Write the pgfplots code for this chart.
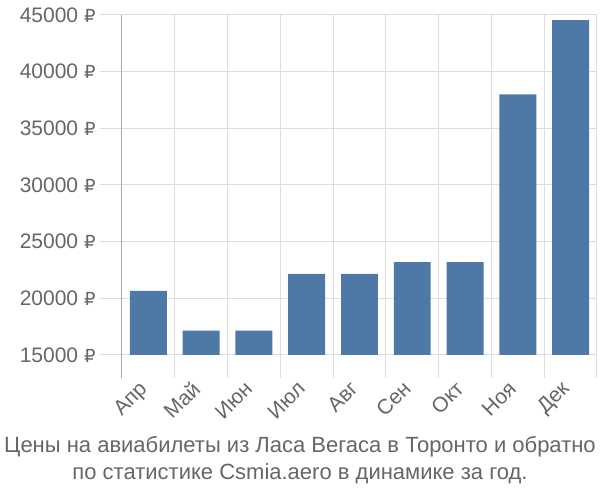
\documentclass[border=0pt]{standalone}
\usepackage{pgfplots}
\pgfplotsset{compat=1.18}
\usepackage{fontspec}
\setmainfont{Liberation Sans}
\newfontfamily\rubfont{DejaVu Sans}
\definecolor{barc}{RGB}{78,121,167}
\definecolor{txt}{RGB}{102,102,102}
\definecolor{gridc}{RGB}{221,221,221}
\definecolor{axc}{RGB}{170,170,170}
\begin{document}
\begin{tikzpicture}
\useasboundingbox (-122pt,-145pt) rectangle (478pt,355pt);
\begin{axis}[
  at={(0pt,0pt)}, anchor=south west,
  scale only axis, width=475pt, height=340pt,
  xmin=-0.5, xmax=8.5, ymin=15000, ymax=45000,
  xtick={0,...,8},
  xticklabels={Апр,Май,Июн,Июл,Авг,Сен,Окт,Ноя,Дек},
  minor xtick={-0.5,0.5,...,8.5},
  ytick={15000,20000,...,45000},
  scaled y ticks=false,
  yticklabel={\pgfmathprintnumber[1000 sep={},assume math mode=true,fixed,precision=0]{\tick}~{\rubfont\fontsize{18}{24}\selectfont ₽}},
  /pgf/number format/assume math mode=true,
  tick label style={font=\fontsize{21}{24}\selectfont, text=txt},
  xticklabel style={rotate=45, anchor=north east, xshift=-6pt, yshift=9pt},
  yticklabel style={xshift=-1pt},
  major x tick style={draw=none},
  minor x tick style={draw=gridc, line width=1pt},
  minor tick length=23pt,
  major y tick style={draw=gridc, line width=1pt},
  major tick length=22pt,
  xtick pos=bottom, ytick pos=left,
  tick align=outside,
  ymajorgrids, xminorgrids,
  grid style={draw=gridc, line width=1pt},
  axis line style={draw=none},
  ybar, bar width=0.7,
  clip=false,
]
\addplot[fill=barc, draw=none] coordinates {
(0,20650) (1,17150) (2,17150) (3,22150) (4,22150) (5,23200) (6,23200) (7,38000) (8,44550)};
\draw[axc, line width=1pt] (axis cs:-0.5,45000) -- ([yshift=-23pt]axis cs:-0.5,15000);
\end{axis}
\node[text=txt, align=center, font=\fontsize{22}{27}\selectfont] at (178pt,-105pt)
  {Цены на авиабилеты из Ласа Вегаса в Торонто и обратно\\по статистике Csmia.aero в динамике за год.};
\end{tikzpicture}
\end{document}
